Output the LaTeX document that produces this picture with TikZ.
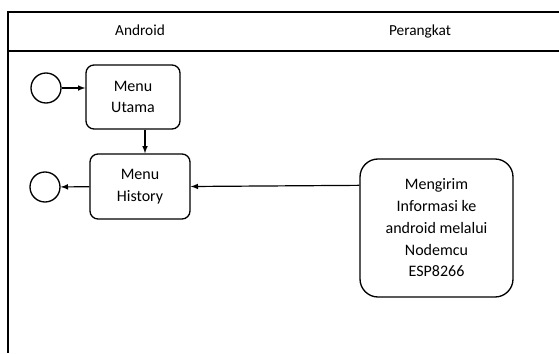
\documentclass[tikz,border=0pt]{standalone}
\usepackage{fontspec}
\setmainfont{Carlito}
\usetikzlibrary{positioning, arrows, shapes}
\tikzset{
        >=latex, % filled arrow heads
        x=0.75pt, y=-0.75pt, % one unit is one pixel of the drawing
        every node/.style={font=\fontsize{12}{16.3}\selectfont, align=center},
        lane/.style={font=\fontsize{11.5}{14}\selectfont, anchor=base}, % lane titles
        activity/.style={draw, line width=1pt, rounded corners=6pt, minimum width=70.5pt, minimum height=48pt}, % boxes of the flow
        terminal/.style={draw, circle, line width=1pt, minimum size=22.5pt, inner sep=0pt}, % start and end
    }
\begin{document}
\begin{tikzpicture}
    \useasboundingbox (0,0) rectangle (559,353);
    % lanes
    \draw[line width=2pt] (7,12) -- (559,12);
    \draw[line width=1.2pt] (8,12) -- (8,353);
    \draw[line width=0.8pt] (8,51) -- (559,51);
    \node[lane] (android) at (140,35.5) {Android};
    \node[lane] (perangkat) at (420,35.5) {Perangkat};
    % nodes
    \node[terminal] (start) at (46,88) {};
    \node[activity] (utama) at (133,97) {Menu\\Utama};
    \node[activity, minimum width=75pt, minimum height=48.75pt] (history) at (140,186.5) {Menu\\History};
    \node[terminal] (end) at (45,187) {};
    \node[activity, rounded corners=13.5pt, minimum width=114.75pt, minimum height=103.5pt] (kirim) at (436.5,228) {Mengirim\\Informasi ke\\android melalui\\Nodemcu\\ESP8266};
    % flow
    \path[->, line width=0.9pt]
      (start) edge (start -| utama.west)
      ([xshift=9pt]utama.south) edge ([xshift=9pt]utama.south |- history.north)
      (history) edge (end)
      ([yshift=32pt]kirim.west) edge (history.east);
\end{tikzpicture}
\end{document}
